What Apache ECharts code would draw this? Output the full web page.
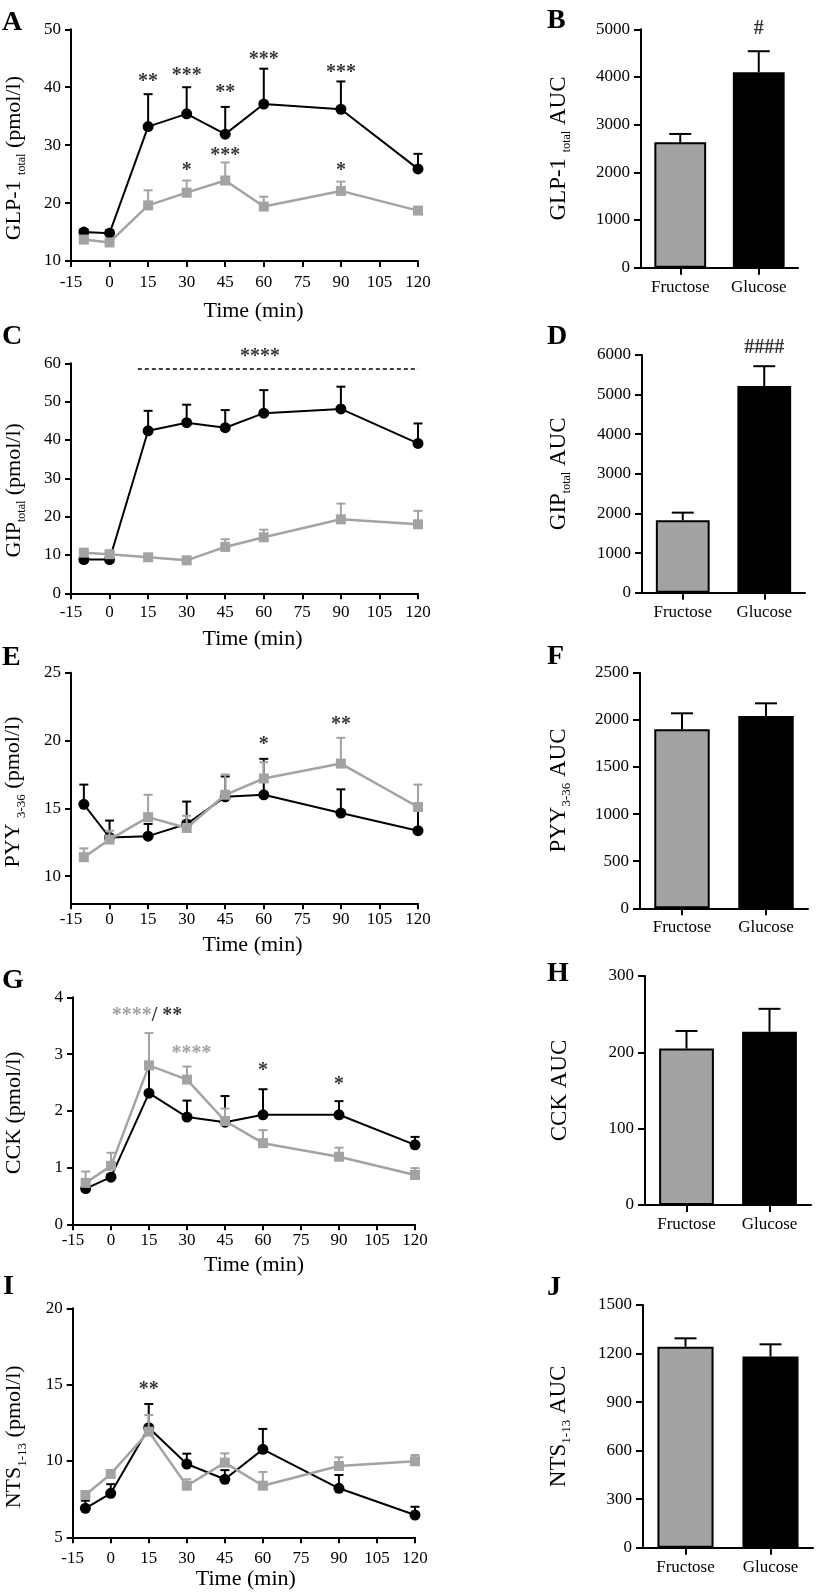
<!DOCTYPE html>
<html>
<head>
<meta charset="utf-8">
<title>Gut hormones after fructose and glucose</title>
<script src="https://cdn.jsdelivr.net/npm/echarts@6/dist/echarts.min.js"></script>
<style>
  html, body { margin: 0; padding: 0; background: #fff; }
  #chart { width: 817px; height: 1594px; }
</style>
</head>
<body>
<div id="chart"></div>
<script>
// time points (min) and x ticks
const times = [-10, 0, 15, 30, 45, 60, 90, 120];
const xTicks = [-15, 0, 15, 30, 45, 60, 75, 90, 105, 120];
const groups = ['Fructose', 'Glucose'];

// GLP-1 total (pmol/l): mean / SEM
const glpGlucose = [15.0, 14.8, 33.2, 35.4, 31.9, 37.1, 36.2, 25.9];
const glpGlucoseSem = [0.4, 0.5, 5.6, 4.6, 4.7, 6.1, 4.8, 2.6];
const glpFructose = [13.7, 13.2, 19.6, 21.8, 23.9, 19.4, 22.1, 18.7];
const glpFructoseSem = [0.6, 0.6, 2.6, 2.1, 3.1, 1.7, 1.6, 0.6];
const glpTicks = [10, 20, 30, 40, 50];
const glpStars = [[15, 40.85, '**'], [30, 42.05, '***'], [45, 39.1, '**'], [60, 44.8, '***'], [90, 42.55, '***'],
                  [30, 25.65, '*'], [45, 28.1, '***'], [90, 25.65, '*']];

// GIP total (pmol/l)
const gipGlucose = [8.8, 8.8, 42.4, 44.5, 43.2, 47.0, 48.1, 39.1];
const gipGlucoseSem = [0.5, 0.5, 5.2, 4.7, 4.6, 6.0, 5.8, 5.2];
const gipFructose = [10.6, 10.2, 9.4, 8.6, 12.1, 14.6, 19.3, 18.0];
const gipFructoseSem = [0.5, 0.5, 0.6, 0.5, 2.0, 2.0, 4.1, 3.5];
const gipTicks = [0, 10, 20, 30, 40, 50, 60];
const gipStars = [[58.5, 61.8, '****']];
const gipDash = [[11, 58.5], [120, 58.5]];

// PYY 3-36 (pmol/l)
const pyyGlucose = [15.3, 12.85, 12.95, 13.85, 15.85, 16.0, 14.65, 13.35];
const pyyGlucoseSem = [1.45, 1.25, 0.9, 1.65, 1.5, 2.65, 1.75, 1.6];
const pyyFructose = [11.4, 12.7, 14.35, 13.55, 16.0, 17.2, 18.3, 15.1];
const pyyFructoseSem = [0.65, 0.65, 1.65, 0.9, 1.5, 1.2, 1.9, 1.65];
const pyyTicks = [10, 15, 20, 25];
const pyyStars = [[60, 19.65, '*'], [90, 21.18, '**']];

// CCK (pmol/l)
const cckGlucose = [0.63, 0.83, 2.31, 1.89, 1.80, 1.93, 1.93, 1.40];
const cckGlucoseSem = [0.05, 0.05, 0.45, 0.29, 0.46, 0.45, 0.24, 0.14];
const cckFructose = [0.73, 1.03, 2.80, 2.55, 1.82, 1.43, 1.19, 0.87];
const cckFructoseSem = [0.2, 0.23, 0.57, 0.23, 0.22, 0.23, 0.16, 0.12];
const cckTicks = [0, 1, 2, 3, 4];
const cckStars = [[14.2, 3.665, '{g|****}/ **'], [31.8, 3.0, '{g|****}'], [60, 2.70, '*'], [90, 2.45, '*']];

// NTS 1-13 (pmol/l)
const ntsGlucose = [6.9, 7.88, 12.18, 9.8, 8.8, 10.76, 8.21, 6.46];
const ntsGlucoseSem = [0.5, 0.6, 1.55, 0.68, 0.6, 1.34, 0.87, 0.54];
const ntsFructose = [7.77, 9.15, 11.92, 8.38, 9.89, 8.38, 9.67, 9.98];
const ntsFructoseSem = [0.2, 0.25, 1.09, 0.42, 0.61, 0.9, 0.57, 0.41];
const ntsTicks = [5, 10, 15, 20];
const ntsStars = [[15, 14.65, '**']];

// AUC (Fructose, Glucose)
const glpAuc = [2630, 4100], glpAucSem = [175, 440], glpAucTicks = [0, 1000, 2000, 3000, 4000, 5000];
const gipAuc = [1826, 5217], gipAucSem = [195, 500], gipAucTicks = [0, 1000, 2000, 3000, 4000, 5000, 6000];
const pyyAuc = [1899, 2040], pyyAucSem = [170, 135], pyyAucTicks = [0, 500, 1000, 1500, 2000, 2500];
const cckAuc = [205, 227], cckAucSem = [23, 30], cckAucTicks = [0, 100, 200, 300];
const ntsAuc = [1242, 1181], ntsAucSem = [52, 76], ntsAucTicks = [0, 300, 600, 900, 1200, 1500];
const glpAucStars = [[1, 5000, '#']];
const gipAucStars = [[1, 6169, '####']];

const FONT = 'Liberation Serif';
const GRAY = '#a3a3a3';

const linePanels = [
  { grid: [71, 29.3, 347, 231.7], ticks: glpTicks, yMin: 10, name: 'GLP-1 {s|total} (pmol/l)', nameGap: 43, shift: 13,
    xMargin: 13, xGap: 39, xShift: 9, glu: glpGlucose, gluSem: glpGlucoseSem, fru: glpFructose, fruSem: glpFructoseSem, stars: glpStars },
  { grid: [71, 363.3, 347, 230], ticks: gipTicks, yMin: 0, name: 'GIP{s|total} (pmol/l)', nameGap: 43, shift: 12,
    xMargin: 11, xGap: 35, xShift: 8, glu: gipGlucose, gluSem: gipGlucoseSem, fru: gipFructose, fruSem: gipFructoseSem, stars: gipStars, dash: gipDash },
  { grid: [71, 672.7, 347, 230.6], ticks: pyyTicks, yMin: 8, name: 'PYY {n|3-36} (pmol/l)', nameGap: 43, shift: 4,
    xMargin: 8, xGap: 31, xShift: 8, glu: pyyGlucose, gluSem: pyyGlucoseSem, fru: pyyFructose, fruSem: pyyFructoseSem, stars: pyyStars },
  { grid: [73, 997.3, 342, 227], ticks: cckTicks, yMin: 0, name: 'CCK (pmol/l)', nameGap: 48, shift: 2,
    xMargin: 8, xGap: 30, xShift: 10, glu: cckGlucose, gluSem: cckGlucoseSem, fru: cckFructose, fruSem: cckFructoseSem, stars: cckStars },
  { grid: [72.7, 1308.3, 342.3, 229], ticks: ntsTicks, yMin: 5, name: 'NTS{n|1-13} (pmol/l)', nameGap: 44, shift: 14,
    xMargin: 13, xGap: 30, xShift: 2, glu: ntsGlucose, gluSem: ntsGlucoseSem, fru: ntsFructose, fruSem: ntsFructoseSem, stars: ntsStars }
];

const barPanels = [
  { grid: [641, 29.3, 157, 238.4], ticks: glpAucTicks, name: 'GLP-1 {s|total} AUC', nameGap: 68, vals: glpAuc, sem: glpAucSem, stars: glpAucStars },
  { grid: [642, 355, 163, 237.7], ticks: gipAucTicks, name: 'GIP{s|total} AUC', nameGap: 69, vals: gipAuc, sem: gipAucSem, stars: gipAucStars },
  { grid: [640, 672.7, 168, 235.6], ticks: pyyAucTicks, name: 'PYY{n|3-36} AUC', nameGap: 67, vals: pyyAuc, sem: pyyAucSem, stars: [] },
  { grid: [645, 976, 166, 229], ticks: cckAucTicks, name: 'CCK AUC', nameGap: 74, vals: cckAuc, sem: cckAucSem, stars: [] },
  { grid: [643, 1305, 170, 242.7], ticks: ntsAucTicks, name: 'NTS{n|1-13} AUC', nameGap: 70, vals: ntsAuc, sem: ntsAucSem, stars: [] }
];

const letters = [['A', 2, 23], ['B', 547, 21], ['C', 2, 337], ['D', 547, 337], ['E', 2, 657.5],
                 ['F', 547, 657], ['G', 2, 981], ['H', 547, 974], ['I', 3, 1287], ['J', 547, 1288]];

const axisLine = { show: true, onZero: false, lineStyle: { color: '#000', width: 2 } };
const nameRich = {
  s: { fontSize: 12, fontFamily: FONT, padding: [16, 0, 0, 0] },
  n: { fontSize: 13, fontFamily: FONT, padding: [16, 0, 0, 0] }
};
const plain = v => String(v);

function tickStyle(len) {
  return { show: true, inside: false, length: len, lineStyle: { color: '#000', width: 2 } };
}

// only the upper half of each error bar is drawn, as in the figure
function errorBars(color, cap) {
  return function (params, api) {
    const x = api.value(0), y = api.value(1), e = api.value(2);
    const a = api.coord([x, y]);
    const b = api.coord([x, y + e]);
    const st = { stroke: color, lineWidth: 2 };
    return {
      type: 'group',
      children: [
        { type: 'line', shape: { x1: a[0], y1: a[1], x2: b[0], y2: b[1] }, style: st },
        { type: 'line', shape: { x1: b[0] - cap, y1: b[1], x2: b[0] + cap, y2: b[1] }, style: st }
      ]
    };
  };
}

function starSeries(gi, stars) {
  return {
    type: 'scatter', xAxisIndex: gi, yAxisIndex: gi, symbolSize: 1, clip: false, silent: true, z: 10,
    itemStyle: { color: 'rgba(0,0,0,0)' },
    label: { show: true, position: 'inside', fontSize: 20, fontWeight: 'bold', fontFamily: FONT, color: '#000',
      rich: { g: { fontSize: 20, fontWeight: 'bold', fontFamily: FONT, color: '#8a8a8a' } } },
    data: stars.map(s => ({ value: [s[0], s[1]], label: { formatter: s[2] } }))
  };
}

function namePadding(shift) {
  return shift >= 0 ? [0, 2 * shift, 0, 0] : [0, 0, 0, -2 * shift];
}

const option = {
  animation: false,
  textStyle: { fontFamily: FONT, color: '#000' },
  grid: [], xAxis: [], yAxis: [], series: [], graphic: []
};

linePanels.forEach(p => {
  const gi = option.grid.length;
  option.grid.push({ left: p.grid[0], top: p.grid[1], width: p.grid[2], height: p.grid[3] });
  option.xAxis.push({
    gridIndex: gi, type: 'value',
    min: xTicks[0], max: xTicks[xTicks.length - 1], interval: xTicks[1] - xTicks[0],
    axisLine: axisLine, axisTick: tickStyle(6), splitLine: { show: false },
    axisLabel: { fontSize: 17, fontFamily: FONT, color: '#000', margin: p.xMargin, formatter: plain },
    name: 'Time (min)', nameLocation: 'middle', nameGap: p.xGap,
    nameTextStyle: { fontSize: 22, fontFamily: FONT, color: '#000', padding: [0, 0, 0, 2 * p.xShift] }
  });
  const ya = {
    gridIndex: gi, type: 'value', min: p.yMin, max: p.ticks[p.ticks.length - 1],
    axisLine: axisLine, axisTick: tickStyle(6), splitLine: { show: false },
    axisLabel: { fontSize: 17, fontFamily: FONT, color: '#000', margin: 10, formatter: plain },
    name: p.name, nameLocation: 'middle', nameRotate: 90, nameGap: p.nameGap,
    nameTextStyle: { fontSize: 22, fontFamily: FONT, color: '#000', padding: namePadding(p.shift), rich: nameRich }
  };
  if (p.yMin === p.ticks[0]) {
    ya.interval = p.ticks[1] - p.ticks[0];
  } else {
    ya.axisLabel.customValues = p.ticks;
    ya.axisTick.customValues = p.ticks;
  }
  option.yAxis.push(ya);

  if (p.dash) {
    option.series.push({
      type: 'line', xAxisIndex: gi, yAxisIndex: gi, data: p.dash, symbol: 'none', silent: true, z: 1,
      lineStyle: { color: '#000', width: 1.5, type: [4, 3] }
    });
  }
  option.series.push({
    type: 'custom', xAxisIndex: gi, yAxisIndex: gi, renderItem: errorBars('#000', 4.5), silent: true, z: 2,
    data: times.map((t, k) => [t, p.glu[k], p.gluSem[k]])
  });
  option.series.push({
    type: 'line', xAxisIndex: gi, yAxisIndex: gi, symbol: 'circle', symbolSize: 11, silent: true, z: 3,
    lineStyle: { color: '#000', width: 2 }, itemStyle: { color: '#000' },
    data: times.map((t, k) => [t, p.glu[k]])
  });
  option.series.push({
    type: 'custom', xAxisIndex: gi, yAxisIndex: gi, renderItem: errorBars(GRAY, 4.5), silent: true, z: 4,
    data: times.map((t, k) => [t, p.fru[k], p.fruSem[k]])
  });
  option.series.push({
    type: 'line', xAxisIndex: gi, yAxisIndex: gi, symbol: 'rect', symbolSize: 10, silent: true, z: 5,
    lineStyle: { color: GRAY, width: 2.5 }, itemStyle: { color: GRAY },
    data: times.map((t, k) => [t, p.fru[k]])
  });
  option.series.push(starSeries(gi, p.stars));
});

barPanels.forEach(p => {
  const gi = option.grid.length;
  option.grid.push({ left: p.grid[0], top: p.grid[1], width: p.grid[2], height: p.grid[3] });
  option.xAxis.push({
    gridIndex: gi, type: 'category', data: groups,
    axisLine: axisLine, axisTick: Object.assign(tickStyle(7), { alignWithLabel: true }),
    axisLabel: { fontSize: 17, fontFamily: FONT, color: '#000', margin: 11 }
  });
  option.yAxis.push({
    gridIndex: gi, type: 'value', min: p.ticks[0], max: p.ticks[p.ticks.length - 1], interval: p.ticks[1] - p.ticks[0],
    axisLine: axisLine, axisTick: tickStyle(7), splitLine: { show: false },
    axisLabel: { fontSize: 17, fontFamily: FONT, color: '#000', margin: 11, formatter: plain },
    name: p.name, nameLocation: 'middle', nameRotate: 90, nameGap: p.nameGap,
    nameTextStyle: { fontSize: 23, fontFamily: FONT, color: '#000', rich: nameRich }
  });
  option.series.push({
    type: 'bar', xAxisIndex: gi, yAxisIndex: gi, barWidth: '66%', silent: true, z: 2,
    data: p.vals.map((v, k) => ({
      value: v,
      itemStyle: k === 0 ? { color: GRAY, borderColor: '#000', borderWidth: 2 } : { color: '#000', borderColor: '#000', borderWidth: 2 }
    }))
  });
  option.series.push({
    type: 'custom', xAxisIndex: gi, yAxisIndex: gi, renderItem: errorBars('#000', 11), silent: true, z: 3,
    data: p.vals.map((v, k) => [k, v, p.sem[k]])
  });
  if (p.stars.length) option.series.push(starSeries(gi, p.stars));
});

letters.forEach(l => {
  option.graphic.push({
    type: 'text', x: l[1], y: l[2], silent: true,
    style: { text: l[0], fontSize: 28, fontWeight: 'bold', fontFamily: FONT, fill: '#000', verticalAlign: 'middle' }
  });
});

const chart = echarts.init(document.getElementById('chart'));
chart.setOption(option);
</script>
</body>
</html>
